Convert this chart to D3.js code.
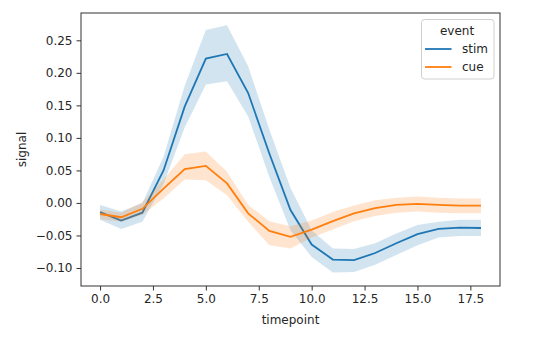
<!DOCTYPE html>
<html><head><meta charset="utf-8">
<script src="https://cdn.jsdelivr.net/npm/d3@7"></script>
<style>body{margin:0;background:#fff}svg{display:block}text{font-family:"DejaVu Sans",sans-serif;fill:#262626}</style>
</head><body>
<script>
const timepoints = [0,1,2,3,4,5,6,7,8,9,10,11,12,13,14,15,16,17,18];
const stimMean = [-0.014,-0.027,-0.015,0.050,0.148,0.222,0.229,0.169,0.076,-0.011,-0.064,-0.087,-0.088,-0.077,-0.062,-0.048,-0.040,-0.038,-0.0385];
const stimLow  = [-0.026,-0.040,-0.029,0.029,0.116,0.182,0.187,0.133,0.040,-0.042,-0.083,-0.107,-0.106,-0.095,-0.080,-0.065,-0.053,-0.051,-0.051];
const stimHigh = [-0.003,-0.013,0.000,0.071,0.180,0.266,0.273,0.210,0.113,0.023,-0.042,-0.070,-0.071,-0.062,-0.047,-0.034,-0.029,-0.026,-0.026];
const cueMean = [-0.017,-0.022,-0.009,0.022,0.052,0.057,0.030,-0.016,-0.043,-0.052,-0.041,-0.028,-0.016,-0.008,-0.003,-0.0015,-0.003,-0.004,-0.004];
const cueLow  = [-0.025,-0.029,-0.018,0.007,0.036,0.035,0.012,-0.029,-0.065,-0.070,-0.053,-0.041,-0.028,-0.020,-0.015,-0.013,-0.015,-0.016,-0.016];
const cueHigh = [-0.010,-0.015,0.001,0.036,0.075,0.079,0.048,-0.003,-0.028,-0.036,-0.027,-0.014,-0.004,0.004,0.008,0.010,0.008,0.007,0.007];
const xTicks = [0,2.5,5,7.5,10,12.5,15,17.5];
const yTicks = [-0.10,-0.05,0,0.05,0.10,0.15,0.20,0.25];
const events = ["stim","cue"];
const colors = ["#1f77b4","#ff7f0e"];

const W=555,H=344;
const svg=d3.select("body").append("svg").attr("width",W).attr("height",H);
const x=d3.scaleLinear().domain([-0.9,18.9]).range([81,500]);
const y=d3.scaleLinear().domain([-0.1277,0.292]).range([286,13]);

const series=[
 {name:events[0],color:colors[0],m:stimMean,lo:stimLow,hi:stimHigh},
 {name:events[1],color:colors[1],m:cueMean,lo:cueLow,hi:cueHigh}
];
const g=svg.append("g");
const line=d3.line().x((d,i)=>x(timepoints[i])).y(d=>y(d));
series.forEach(s=>{
  g.append("path").attr("d",line(s.m)).attr("fill","none").attr("stroke",s.color).attr("stroke-width",1.8);
  const area=d3.area().x((d,i)=>x(timepoints[i])).y0((d,i)=>y(s.lo[i])).y1((d,i)=>y(s.hi[i]));
  g.append("path").attr("d",area(s.m)).attr("fill",s.color).attr("fill-opacity",0.2).attr("stroke","none");
});

// axes
const xa=svg.append("g").attr("transform","translate(0,286)")
  .call(d3.axisBottom(x).tickValues(xTicks).tickFormat(d3.format(".1f")).tickSize(4.5).tickPadding(4));
const ya=svg.append("g").attr("transform","translate(81,0)")
  .call(d3.axisLeft(y).tickValues(yTicks).tickFormat(d=>d3.format(".2f")(d).replace("-","\u2212")).tickSize(4.5).tickPadding(4));
[xa,ya].forEach(a=>{a.select(".domain").remove();a.selectAll("line").attr("stroke","#333").attr("stroke-width",1);
  a.selectAll("text").attr("font-size",12).attr("fill","#262626");});
svg.append("rect").attr("x",81).attr("y",13).attr("width",419).attr("height",273)
  .attr("fill","none").attr("stroke","#333").attr("stroke-width",1);

svg.append("text").attr("x",290.5).attr("y",324).attr("text-anchor","middle").attr("font-size",12).text("timepoint");
svg.append("text").attr("transform","translate(26,149.5) rotate(-90)").attr("text-anchor","middle").attr("font-size",12).text("signal");

// legend
const lg=svg.append("g");
lg.append("rect").attr("x",421.5).attr("y",19.5).attr("width",72.5).attr("height",59.5).attr("rx",3)
  .attr("fill","#fff").attr("fill-opacity",0.8).attr("stroke","#d0d0d0");
lg.append("text").attr("x",457).attr("y",34.5).attr("text-anchor","middle").attr("font-size",12).text("event");
series.forEach((s,i)=>{
  const yy=49+i*18;
  lg.append("line").attr("x1",425).attr("x2",451.5).attr("y1",yy).attr("y2",yy).attr("stroke",s.color).attr("stroke-width",1.8);
  lg.append("text").attr("x",462).attr("y",yy+4.3).attr("font-size",12).text(s.name);
});
</script>
</body></html>
